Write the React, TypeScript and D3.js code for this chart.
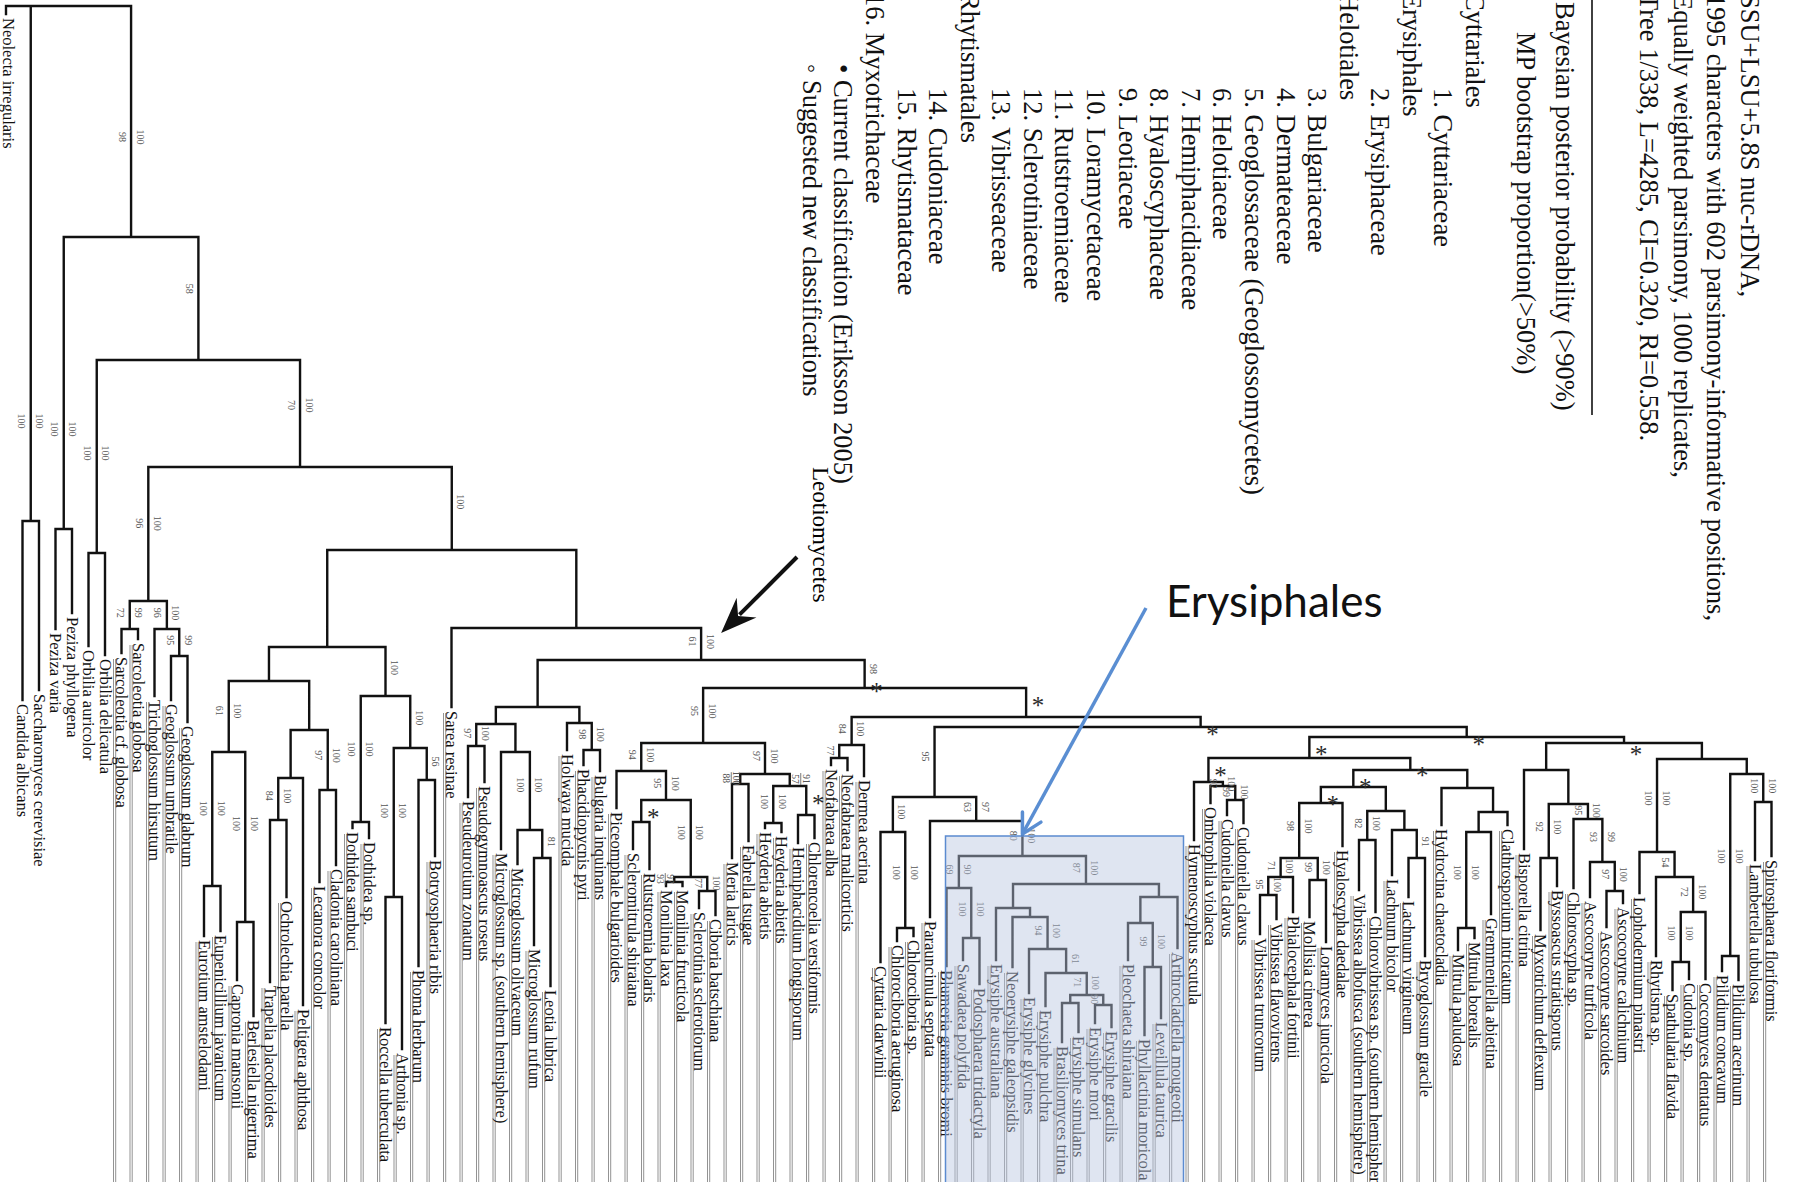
import React from 'react';
import * as d3 from 'd3';

const WIDTH = 1793;
const HEIGHT = 1182;
const SERIF = '"Liberation Serif", "Times New Roman", serif';

// internal nodes: id, parent, depth below the root, left support, right support
const NODES: [string, string, number, string, string][] = [
  ['R', '', 0, '', ''],
  ['A', 'R', 231, '98', '100'],
  ['Y1', 'R', 515, '100', '100'],
  ['Pz', 'A', 523, '100', '100'],
  ['B', 'A', 354, '58', ''],
  ['Or', 'B', 547, '100', '100'],
  ['C', 'B', 461, '70', '100'],
  ['Geo', 'C', 595, '96', '100'],
  ['Sar', 'Geo', 623, '72', '99'],
  ['TG', 'Geo', 623, '96', '100'],
  ['Gg', 'TG', 650, '95', '99'],
  ['D', 'C', 544, '', '100'],
  ['E', 'D', 641, '', ''],
  ['G', 'E', 675, '', ''],
  ['I', 'G', 746, '61', '100'],
  ['Eur', 'I', 880, '100', '100'],
  ['Cap', 'I', 916, '100', '100'],
  ['J', 'G', 724, '', ''],
  ['K', 'J', 772, '', ''],
  ['K1', 'K', 814, '84', '100'],
  ['L', 'J', 784, '97', '100'],
  ['H', 'E', 690, '', '100'],
  ['Dot', 'H', 816, '100', '100'],
  ['M', 'H', 742, '', '100'],
  ['Roc', 'M', 891, '100', '100'],
  ['Pho', 'M', 774, '', '56'],
  ['F', 'D', 622, '', ''],
  ['N', 'F', 654, '61', '100'],
  ['O', 'N', 701, '', ''],
  ['Q', 'O', 718, '', ''],
  ['Pse', 'Q', 740, '97', '100'],
  ['Mic', 'Q', 746, '', ''],
  ['R1', 'Mic', 824, '100', '100'],
  ['S1', 'R1', 852, '', '81'],
  ['Hol', 'O', 717, '', ''],
  ['Bul', 'Hol', 744, '98', '100'],
  ['P', 'N', 682, '', '98'],
  ['T', 'P', 737, '95', '100'],
  ['V', 'T', 765, '94', '100'],
  ['X', 'V', 794, '95', '100'],
  ['Y', 'X', 816, '', ''],
  ['Z', 'X', 871, '100', '100'],
  ['Mon', 'Z', 876, '97/93', ''],
  ['Scl', 'Z', 885, '77', '100'],
  ['W', 'T', 768, '97', '100'],
  ['MF', 'W', 778, '100/88', ''],
  ['HH', 'W', 780, '', '91/57'],
  ['Hey', 'HH', 817, '100', '100'],
  ['HC', 'HH', 809, '', ''],
  ['U', 'P', 711, '', ''],
  ['Dm', 'U', 739, '84', '100'],
  ['Nf', 'Dm', 752, '77', ''],
  ['U2', 'U', 721, '', ''],
  ['AA', 'U2', 791, '95', ''],
  ['Ch', 'AA', 826, '', '100'],
  ['Ch2', 'Ch', 922, '100', '100'],
  ['GG', 'AA', 815, '63', '97'],
  ['ERY', 'GG', 850, '80', '100'],
  ['HH1', 'ERY', 882, '69', '90'],
  ['SP', 'HH1', 932, '100', '100'],
  ['II', 'ERY', 878, '87', '100'],
  ['LL', 'II', 902, '', ''],
  ['MM', 'LL', 911, '', ''],
  ['NN', 'MM', 943, '94', '100'],
  ['OO', 'NN', 967, '', '61'],
  ['PP', 'OO', 989, '71', '100'],
  ['QQ', 'PP', 997, '', ''],
  ['RR', 'PP', 999, '90', ''],
  ['KK', 'II', 891, '', ''],
  ['JJ', 'KK', 917, '', ''],
  ['PLn', 'JJ', 961, '99', '100'],
  ['BB', 'U2', 731, '', ''],
  ['CC', 'BB', 752, '', ''],
  ['HC2', 'CC', 776, '', ''],
  ['OC', 'HC2', 780, '92', '100'],
  ['Cud', 'OC', 794, '99', '100'],
  ['SS', 'CC', 764, '', ''],
  ['TT', 'SS', 781, '', ''],
  ['VV', 'TT', 797, '', ''],
  ['XX', 'VV', 852, '98', '100'],
  ['YY', 'XX', 871, '71', '100'],
  ['Vt', 'YY', 889, '95', '100'],
  ['ZZ', 'XX', 874, '99', '100'],
  ['WW', 'TT', 805, '', ''],
  ['Vc', 'WW', 834, '82', '100'],
  ['AB', 'WW', 824, '', ''],
  ['LB', 'AB', 852, '', '91'],
  ['UU', 'SS', 782, '', ''],
  ['MG', 'UU', 806, '', ''],
  ['MGr', 'MG', 826, '', ''],
  ['Mit', 'MGr', 922, '100', '100'],
  ['DD', 'BB', 737, '', ''],
  ['EE', 'DD', 764, '', ''],
  ['FG', 'EE', 798, '', ''],
  ['MB', 'FG', 852, '92', '100'],
  ['ASC', 'FG', 813, '95', '100'],
  ['A1', 'ASC', 856, '93', '99'],
  ['A2', 'A1', 885, '97', '100'],
  ['FF', 'DD', 753, '', ''],
  ['RH', 'FF', 846, '100', '100'],
  ['RC', 'RH', 871, '54', ''],
  ['SC', 'RC', 906, '72', '100'],
  ['SCu', 'SC', 956, '100', '100'],
  ['PL', 'FF', 768, '', ''],
  ['Pil', 'PL', 950, '100', '100'],
  ['LS', 'PL', 796, '100', '100'],
];

// branches marked with an asterisk
const STARRED = ['P', 'Y', 'HC', 'U', 'U2', 'BB', 'CC', 'HC2', 'SS', 'TT', 'VV', 'DD'];

// leaves from left to right: name, parent node, tip depth
const LEAVES: [string, string, number][] = [
  ['Neolecta irregularis', 'R', 8],
  ['Candida albicans', 'Y1', 694],
  ['Saccharomyces cerevisiae', 'Y1', 684],
  ['Peziza varia', 'Pz', 623],
  ['Peziza phyllogena', 'Pz', 607],
  ['Orbilia auricolor', 'Or', 640],
  ['Orbilia delicatula', 'Or', 649],
  ['Sarcoleotia cf. globosa', 'Sar', 647],
  ['Sarcoleotia globosa', 'Sar', 633],
  ['Trichoglossum hirsutum', 'TG', 690],
  ['Geoglossum umbratile', 'Gg', 694],
  ['Geoglossum glabrum', 'Gg', 716],
  ['Eurotium amstelodami', 'Eur', 930],
  ['Eupenicillium javanicum', 'Eur', 925],
  ['Capronia mansonii', 'Cap', 974],
  ['Berlesiella nigerrima', 'Cap', 1010],
  ['Trapelia placodioides', 'K1', 976],
  ['Ochrolechia parella', 'K1', 891],
  ['Peltigera aphthosa', 'K', 999],
  ['Lecanora concolor', 'L', 876],
  ['Cladonia caroliniana', 'L', 859],
  ['Dothidea sambuci', 'Dot', 822],
  ['Dothidea sp.', 'Dot', 832],
  ['Roccella tuberculata', 'Roc', 1017],
  ['Arthonia sp.', 'Roc', 1043],
  ['Phoma herbarum', 'Pho', 960],
  ['Botryosphaeria ribis', 'Pho', 850],
  ['Sarea resinae', 'F', 701],
  ['Pseudeurotium zonatum', 'Pse', 791],
  ['Pseudogymnoascus roseus', 'Pse', 776],
  ['Microglossum sp. (southern hemisphere)', 'Mic', 843],
  ['Microglossum olivaceum', 'R1', 858],
  ['Microglossum rufum', 'S1', 939],
  ['Leotia lubrica', 'S1', 980],
  ['Holwaya mucida', 'Hol', 744],
  ['Phacidiopycnis pyri', 'Bul', 759],
  ['Bulgaria inquinans', 'Bul', 765],
  ['Piceomphale bulgarioides', 'V', 802],
  ['Scleromitrula shiraiana', 'Y', 843],
  ['Rutstroemia bolaris', 'Y', 863],
  ['Monilinia laxa', 'Mon', 880],
  ['Monilinia fructicola', 'Mon', 880],
  ['Sclerotinia sclerotiorum', 'Scl', 902],
  ['Ciboria batschiana', 'Scl', 909],
  ['Meria laricis', 'MF', 852],
  ['Fabrella tsugae', 'MF', 835],
  ['Heyderia abietis', 'Hey', 822],
  ['Heyderia abietis', 'Hey', 826],
  ['Hemiphacidium longisporum', 'HC', 837],
  ['Chlorencoelia versiformis', 'HC', 832],
  ['Neofabraea alba', 'Nf', 759],
  ['Neofabraea malicorticis', 'Nf', 764],
  ['Dermea acerina', 'Dm', 770],
  ['Cyttaria darwinii', 'Ch', 956],
  ['Chlorociboria aeruginosa', 'Ch2', 935],
  ['Chlorociboria sp.', 'Ch2', 930],
  ['Parauncinula septata', 'GG', 911],
  ['Blumeria graminis bromi', 'HH1', 960],
  ['Sawadaea polyfida', 'SP', 954],
  ['Podosphaera tridactyla', 'SP', 978],
  ['Erysiphe australiana', 'LL', 954],
  ['Neoerysiphe galeopsidis', 'MM', 961],
  ['Erysiphe glycines', 'NN', 987],
  ['Erysiphe pulchra', 'OO', 1000],
  ['Brasiliomyces trina', 'QQ', 1036],
  ['Erysiphe simulans', 'QQ', 1026],
  ['Erysiphe mori', 'RR', 1017],
  ['Erysiphe gracilis', 'RR', 1021],
  ['Pleochaeta shiraiana', 'JJ', 954],
  ['Phyllactinia moricola', 'PLn', 1029],
  ['Leveillula taurica', 'PLn', 1012],
  ['Arthrocladiella mougeotii', 'KK', 942],
  ['Hymenoscyphus scutula', 'HC2', 834],
  ['Ombrophila violacea', 'OC', 797],
  ['Cudoniella clavus', 'Cud', 809],
  ['Cudoniella clavus', 'Cud', 817],
  ['Vibrissea truncorum', 'Vt', 928],
  ['Vibrissea flavovirens', 'Vt', 913],
  ['Phialocephala fortinii', 'YY', 906],
  ['Mollisia cinerea', 'ZZ', 911],
  ['Loramyces juncicola', 'ZZ', 936],
  ['Hyaloscypha daedalae', 'VV', 840],
  ['Vibrissea albofusca (southern hemisphere)', 'Vc', 884],
  ['Chlorovibrissea sp. (southern hemisphere)', 'Vc', 906],
  ['Lachnum bicolor', 'AB', 869],
  ['Lachnum virgineum', 'LB', 891],
  ['Bryoglossum gracile', 'LB', 950],
  ['Hydrocina chaetocladia', 'UU', 819],
  ['Mitrula paludosa', 'Mit', 944],
  ['Mitrula borealis', 'Mit', 932],
  ['Gremmeniella abietina', 'MGr', 908],
  ['Clathrosporium intricatum', 'MG', 819],
  ['Bisporella citrina', 'EE', 843],
  ['Myxotrichum deflexum', 'MB', 924],
  ['Byssoascus striatisporus', 'MB', 880],
  ['Chloroscypha sp.', 'ASC', 882],
  ['Ascocoryne turficola', 'A1', 891],
  ['Ascocoryne sarcoides', 'A2', 921],
  ['Ascocoryne calichnium', 'A2', 897],
  ['Lophodermium pinastri', 'RH', 887],
  ['Rhytisma sp.', 'RC', 950],
  ['Spathularia flavida', 'SCu', 984],
  ['Cudonia sp.', 'SCu', 973],
  ['Coccomyces dentatus', 'SC', 973],
  ['Pilidium concavum', 'Pil', 965],
  ['Pilidium acerinum', 'Pil', 974],
  ['Lambertella tubulosa', 'LS', 854],
  ['Spirosphaera floriformis', 'LS', 850],
];

const METHODS = [
  'SSU+LSU+5.8S nuc-rDNA,',
  '1995 characters with 602 parsimony-informative positions,',
  'Equally weighted parsimony, 1000 replicates,',
  'Tree 1/338, L=4285, CI=0.320, RI=0.558.',
];
const SUPPORT_KEYS = ['Bayesian posterior probability (>90%)', 'MP bootstrap proportion(>50%)'];
// text, kind (0 order, 1 family, 2 note)
const CLASSIFICATION: [string, number][] = [
  ['Cyttariales', 0], ['1. Cyttariaceae', 1], ['Erysiphales', 0], ['2. Erysiphaceae', 1],
  ['Helotiales', 0], ['3. Bulgariaceae', 1], ['4. Dermateaceae', 1],
  ['5. Geoglossaceae (Geoglossomycetes)', 1], ['6. Helotiaceae', 1], ['7. Hemiphacidiaceae', 1],
  ['8. Hyaloscyphaceae', 1], ['9. Leotiaceae', 1], ['10. Loramycetaceae', 1],
  ['11. Rutstroemiaceae', 1], ['12. Sclerotiniaceae', 1], ['13. Vibrisseaceae', 1],
  ['Rhytismatales', 0], ['14. Cudoniaceae', 1], ['15. Rhytismataceae', 1],
  ['16. Myxotrichaceae', 0], ['• Current classification (Eriksson 2005)', 2],
  ['◦ Suggested new classifications', 2],
];

type Row = { id: string; parent: string; depth: number; left: string; right: string; leaf: number; name: string };

const vText = (x: number, y: number) => `translate(${x},${y}) rotate(90)`;

function Support({ x, y, text }: { x: number; y: number; text: string }) {
  if (text.includes('/')) {
    const [a, b] = text.split('/');
    return (
      <g transform={vText(x, y)} fontSize={9.5} fill="#555" fontFamily={SERIF}>
        <text y={-5} textAnchor="middle" dominantBaseline="central">{a}</text>
        <line x1={-6} x2={6} y1={0} y2={0} stroke="#555" strokeWidth={0.8} />
        <text y={5.5} textAnchor="middle" dominantBaseline="central">{b}</text>
      </g>
    );
  }
  return (
    <text transform={vText(x, y)} fontSize={10} fill="#555" fontFamily={SERIF}
      textAnchor="middle" dominantBaseline="central">{text}</text>
  );
}

export default function App() {
  const rows: Row[] = [
    ...NODES.map(([id, parent, depth, left, right]) => ({ id, parent, depth, left, right, leaf: -1, name: '' })),
    ...LEAVES.map(([name, parent, depth], i) => ({ id: `leaf${i}`, parent, depth, left: '', right: '', leaf: i, name })),
  ];
  const root = d3.stratify<Row>().id(d => d.id).parentId(d => d.parent || null)(rows);

  const xScale = d3.scaleLinear().domain([0, LEAVES.length - 1]).range([6, 1771.5]);
  const yScale = d3.scaleLinear().domain([0, 1176]).range([6, 1182]);

  const pos = new Map<string, { x: number; y: number }>();
  root.eachAfter(n => {
    let x: number;
    if (n.children) {
      const xs = n.children.map(c => pos.get(c.id!)!.x);
      x = ((d3.min(xs) as number) + (d3.max(xs) as number)) / 2;
    } else {
      x = xScale(n.data.leaf);
    }
    pos.set(n.id!, { x, y: yScale(n.data.depth) });
  });

  const path = d3.path();
  root.each(n => {
    const p = pos.get(n.id!)!;
    if (n.parent) {
      const pp = pos.get(n.parent.id!)!;
      path.moveTo(p.x, pp.y);
      path.lineTo(p.x, p.y);
    }
    if (n.children) {
      const xs = n.children.map(c => pos.get(c.id!)!.x);
      path.moveTo(d3.min(xs) as number, p.y);
      path.lineTo(d3.max(xs) as number, p.y);
    }
  });

  const supports: JSX.Element[] = [];
  const stars: JSX.Element[] = [];
  root.each(n => {
    if (!n.parent || !n.children) return;
    const p = pos.get(n.id!)!;
    const py = pos.get(n.parent.id!)!.y;
    const starred = STARRED.includes(n.id!);
    const cy = Math.max(py + (p.y - py) * 0.42, p.y - 100);
    if (n.data.left) supports.push(<Support key={n.id + 'l'} x={p.x - 9} y={cy} text={n.data.left} />);
    if (n.data.right) {
      const ry = starred ? py + 9 : cy;
      supports.push(<Support key={n.id + 'r'} x={p.x + (n.data.right.includes('/') ? 11 : 9)} y={ry} text={n.data.right} />);
    }
    if (starred) {
      const sy = n.data.right ? p.y - 5 : py + 9;
      stars.push(
        <text key={n.id + 's'} x={p.x + 12} y={sy} dy={8} fontSize={25} fontFamily={SERIF}
          fill="#2a2a2a" textAnchor="middle" dominantBaseline="central">*</text>
      );
    }
  });

  const leaves = root.leaves();
  const ery = pos.get('ERY')!;
  const nLeo = pos.get('N')!;

  // blue annotation arrow
  const bStart = { x: 1146, y: 608 };
  const bTip = { x: ery.x, y: ery.y - 22 };
  const bAng = Math.atan2(bTip.y - bStart.y, bTip.x - bStart.x);
  const head = (a: number, len: number) => ({ x: bTip.x - len * Math.cos(bAng + a), y: bTip.y - len * Math.sin(bAng + a) });
  const h1 = head(0.5, 22);
  const h2 = head(-0.5, 22);

  // black annotation arrow
  const kTip = { x: nLeo.x + 20, y: nLeo.y - 27 };
  const kStart = { x: 797, y: 557 };
  const kd = { x: (kTip.x - kStart.x), y: (kTip.y - kStart.y) };
  const kl = Math.hypot(kd.x, kd.y);
  const ux = kd.x / kl, uy = kd.y / kl;
  const nx = -uy, ny = ux;
  const kHead = [
    [kTip.x, kTip.y],
    [kTip.x - ux * 36 + nx * 14, kTip.y - uy * 36 + ny * 14],
    [kTip.x - ux * 24, kTip.y - uy * 24],
    [kTip.x - ux * 36 - nx * 14, kTip.y - uy * 36 - ny * 14],
  ].map(p => p.join(',')).join(' ');

  const boxLeft = xScale(57) - 1;
  const boxRight = xScale(71) + 6;
  const boxTop = ery.y - 20;

  const classY = [-7, 88, 64];
  const classStep = 31.58;

  return (
    <svg width={WIDTH} height={HEIGHT} style={{ position: 'absolute', left: 0, top: 0, background: '#fff' }}>
      <rect width={WIDTH} height={HEIGHT} fill="#fff" />

      {/* leader lines under the names */}
      <g stroke="#808080" strokeWidth={0.85}>
        {leaves.filter(l => l.data.leaf >= 7).map(l => {
          const p = pos.get(l.id!)!;
          return (
            <g key={l.id}>
              <line x1={p.x - 8} x2={p.x - 8} y1={p.y + 6} y2={HEIGHT} />
              <line x1={p.x - 5.8} x2={p.x - 5.8} y1={p.y + 6} y2={HEIGHT} />
            </g>
          );
        })}
      </g>

      <path d={path.toString()} stroke="#111" strokeWidth={2.4} fill="none" strokeLinecap="square" />

      <g fontFamily={SERIF} fontSize={16.5} fill="#111">
        {leaves.map(l => {
          const p = pos.get(l.id!)!;
          return (
            <text key={l.id} transform={vText(Math.max(p.x, 8), p.y + 4)} dominantBaseline="central">{l.data.name}</text>
          );
        })}
      </g>

      {supports}
      {stars}

      {/* Erysiphales highlight */}
      <rect x={boxLeft} y={boxTop} width={boxRight - boxLeft} height={HEIGHT - boxTop + 2}
        fill="#b9c6e0" fillOpacity={0.45} stroke="#5b8bd0" strokeWidth={1.5} />
      <line x1={bStart.x} y1={bStart.y} x2={bTip.x} y2={bTip.y} stroke="#5a8ed2" strokeWidth={3.5} />
      <polyline points={`${h1.x},${h1.y} ${bTip.x},${bTip.y} ${h2.x},${h2.y}`} fill="none"
        stroke="#5a8ed2" strokeWidth={3.5} strokeLinecap="round" strokeLinejoin="round" />
      <text x={1166} y={617} fontFamily="Lato, 'Open Sans', sans-serif" fontSize={44} fill="#111">Erysiphales</text>

      {/* Leotiomycetes */}
      <line x1={kStart.x} y1={kStart.y} x2={kTip.x - ux * 26} y2={kTip.y - uy * 26} stroke="#111" strokeWidth={4} />
      <polygon points={kHead} fill="#111" />
      <text transform={vText(820, 467)} fontFamily={SERIF} fontSize={23} dominantBaseline="central">Leotiomycetes</text>

      {/* legend */}
      <g fontFamily={SERIF} fontSize={26.5} fill="#111">
        {METHODS.map((t, i) => (
          <text key={t} transform={vText(1750 - i * 33.7, -6)} dominantBaseline="central">{t}</text>
        ))}
        <line x1={1592} x2={1592} y1={0} y2={415} stroke="#111" strokeWidth={1.6} />
        <text transform={vText(1565, 2)} dominantBaseline="central">{SUPPORT_KEYS[0]}</text>
        <text transform={vText(1526, 32)} dominantBaseline="central">{SUPPORT_KEYS[1]}</text>
        {CLASSIFICATION.map(([t, k], i) => (
          <text key={t} transform={vText(1475 - i * classStep, classY[k])} dominantBaseline="central">{t}</text>
        ))}
      </g>
    </svg>
  );
}
